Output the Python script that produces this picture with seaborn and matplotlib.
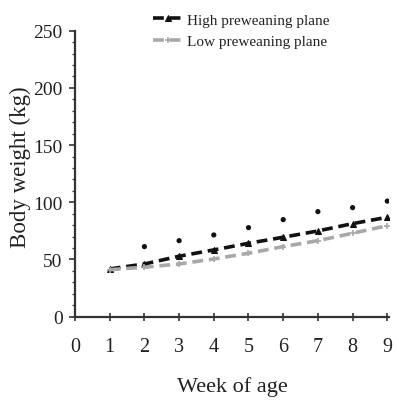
import matplotlib
matplotlib.use("Agg")
import matplotlib.pyplot as plt
import seaborn as sns
import pandas as pd
from matplotlib.ticker import MultipleLocator

weeks = [1, 2, 3, 4, 5, 6, 7, 8, 9]
high_plane = [41.7, 46.0, 52.8, 58.3, 64.1, 69.4, 74.9, 81.3, 86.9]
low_plane = [41.0, 43.2, 46.0, 50.4, 55.4, 61.2, 66.4, 72.9, 79.5]
sig_weeks = [2, 3, 4, 5, 6, 7, 8, 9]
sig_values = [61.2, 66.4, 71.4, 77.8, 84.8, 91.8, 95.3, 101.0]
series_names = ["High preweaning plane", "Low preweaning plane"]
x_ticks = [0, 1, 2, 3, 4, 5, 6, 7, 8, 9]
y_ticks = [0, 50, 100, 150, 200, 250]

sns.set_style("ticks")
plt.rcParams["font.family"] = ["Liberation Serif", "DejaVu Serif"]

high_df = pd.DataFrame({"week": weeks, "bw": high_plane})
low_df = pd.DataFrame({"week": weeks, "bw": low_plane})
sig = pd.DataFrame({"week": sig_weeks, "bw": sig_values})

fig = plt.figure(figsize=(3.99, 4.02), dpi=100)
ax = fig.add_axes([0.188, 0.21, 0.787, 0.711])

sns.lineplot(data=high_df, x="week", y="bw", color="#111111", marker="^",
             markersize=4, markeredgecolor="#111111", linewidth=2.6,
             ax=ax, label=series_names[0])
sns.lineplot(data=low_df, x="week", y="bw", color="#a8a8a8", marker="+",
             markersize=5, markeredgewidth=1.2, markeredgecolor="#a8a8a8",
             linewidth=2.6, ax=ax, label=series_names[1])
for ln in ax.lines[:2]:
    ln.set_dashes((3, 1.6))
sns.scatterplot(data=sig, x="week", y="bw", color="#111111", s=14,
                edgecolor="none", ax=ax, legend=False)

ax.set_xlim(0, 9.05)
ax.set_ylim(0, 250)
ax.set_xticks(x_ticks)
ax.set_yticks(y_ticks)
ax.yaxis.set_minor_locator(MultipleLocator(10))
ax.tick_params(axis="x", direction="inout", length=6, width=1.2, labelsize=14.5, pad=12, colors="#333333")
ax.tick_params(axis="y", which="major", direction="out", length=4, width=1.2, labelsize=14, pad=5, colors="#333333")
ax.tick_params(axis="y", which="minor", direction="out", length=2.5, width=0.9, colors="#333333")
for lab in ax.get_xticklabels() + ax.get_yticklabels():
    lab.set_color("#222222")
for s in ["top", "right"]:
    ax.spines[s].set_visible(False)
for s in ["left", "bottom"]:
    ax.spines[s].set_color("#333333")
    ax.spines[s].set_linewidth(1.6)

ax.set_xlabel("Week of age", fontsize=16, color="#222222", labelpad=14)
ax.set_ylabel("Body weight (kg)", fontsize=16.5, color="#222222")
ax.yaxis.set_label_coords(-0.14, 0.525)

leg = ax.legend(loc="upper left", bbox_to_anchor=(0.213, 1.10), frameon=False,
                fontsize=11, handlelength=2.0, handletextpad=0.26,
                labelspacing=0.5, borderpad=0.2)
for t in leg.get_texts():
    t.set_color("#222222")
for h in leg.get_lines():
    h.set_dashes((3, 1.6))

fig.savefig("out.png", dpi=100)
